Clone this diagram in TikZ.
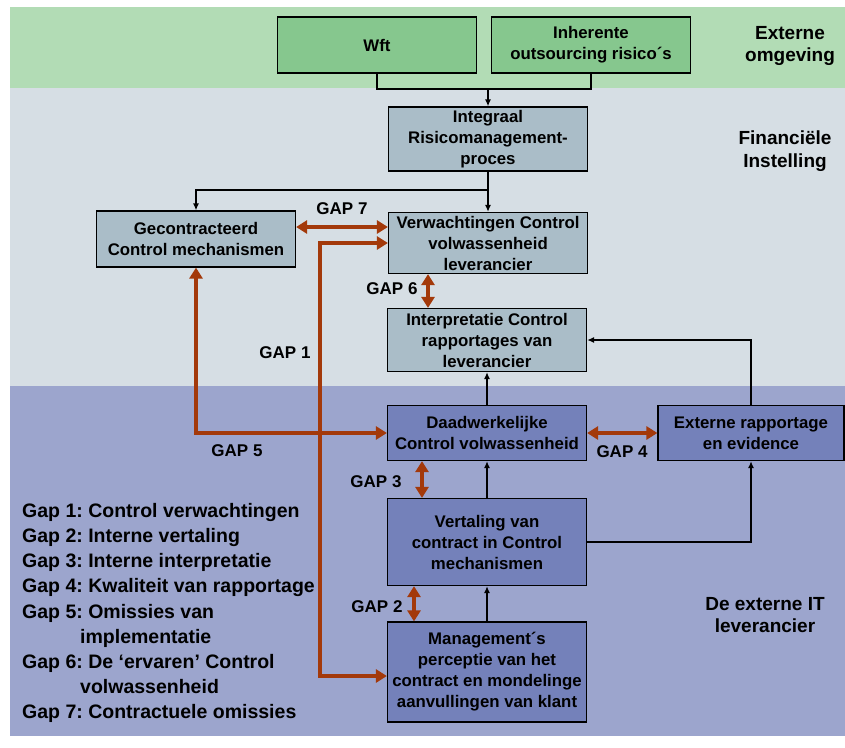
\documentclass[tikz,border=0pt]{standalone}
\usepackage{fontspec}
\setmainfont{Liberation Sans}
\usetikzlibrary{arrows.meta}
\definecolor{bandgreen}{HTML}{B2DCB5}
\definecolor{boxgreen}{HTML}{86C78E}
\definecolor{bandgrey}{HTML}{D6DEE4}
\definecolor{boxgrey}{HTML}{AABDC8}
\definecolor{bandblue}{HTML}{9CA5CD}
\definecolor{boxblue}{HTML}{7481BA}
\definecolor{gaporange}{HTML}{A3390A}
\begin{document}
\begin{tikzpicture}[x=1pt, y=-1pt,
    box/.style={draw, line width=1.2pt, align=center, inner sep=2pt,
        minimum width=199pt, font=\bfseries\fontsize{16.8}{21}\selectfont},
    greenbox/.style={box, fill=boxgreen, minimum height=56pt},
    greybox/.style={box, fill=boxgrey},
    bluebox/.style={box, fill=boxblue},
    link/.style={line width=1.4pt, -{Latex[length=7pt,width=6pt]}},
    line/.style={line width=1.4pt},
    gap/.style={line width=3.5pt, draw=gaporange,
        {Triangle[length=11pt,width=13pt]}-{Triangle[length=11pt,width=13pt]}},
    gaplabel/.style={font=\bfseries\fontsize{17}{20}\selectfont},
    region/.style={align=center, font=\bfseries\fontsize{19}{22.5}\selectfont},
    legend/.style={align=left, inner sep=0pt, font=\bfseries\frenchspacing\fontsize{19.5}{25.2}\selectfont}]
\useasboundingbox (0,0) rectangle (845,747);
\fill[bandgreen] (9.5,7) rectangle (845,88);
\fill[bandgrey] (9.5,88) rectangle (845,386);
\fill[bandblue] (9.5,386) rectangle (845,736);

\node[greenbox] (wft) at (377,45) {Wft};
\node[greenbox] (risico) at (591,45) {Inherente\\outsourcing risico´s};
\node[greybox, minimum height=64pt] (integraal) at (488,139) {Integraal\\Risicomanagement-\\proces};
\node[greybox, minimum height=56pt] (gecontr) at (196,239) {Gecontracteerd\\Control mechanismen};
\node[greybox, minimum height=61pt] (verwacht) at (488,243) {Verwachtingen Control\\volwassenheid\\leverancier};
\node[greybox, minimum height=63pt] (interpr) at (487,340) {Interpretatie Control\\rapportages van\\leverancier};
\node[bluebox, minimum height=55pt] (daadw) at (487,433) {Daadwerkelijke\\Control volwassenheid};
\node[bluebox, minimum width=186pt, minimum height=55pt] (extrap) at (751,433) {Externe rapportage\\en evidence};
\node[bluebox, minimum height=87pt] (vertaling) at (487,542) {Vertaling van\\contract in Control\\mechanismen};
\node[bluebox, minimum height=100pt] (mgmt) at (487,672) {Management´s\\perceptie van het\\contract en mondelinge\\aanvullingen van klant};

\node[region] (omgeving) at (790,46) {Externe\\omgeving};
\node[region] (instelling) at (785,151) {Financiële\\Instelling};
\node[region] (leverancier) at (765,615) {De externe IT\\leverancier};

\coordinate (join) at (488,89);
\coordinate (split) at (488,190);
\coordinate (gapone) at (320,460);
\draw[line] (wft.south) |- (join) -| (risico.south);
\draw[link] (join) -- (integraal.north);
\draw[link] (integraal.south) -- (verwacht.north);
\draw[link] (split) -| (gecontr.north);
\draw[link] (daadw.north) -- (interpr.south);
\draw[link] (extrap.north) |- (interpr.east);
\draw[link] (vertaling.north) -- (daadw.south);
\draw[link] (vertaling.east) -| (extrap.south);
\draw[link] (mgmt.north) -- (vertaling.south);

\draw[gap] ([yshift=12pt]gecontr.east) -- ([yshift=12pt]gecontr.east -| verwacht.west);
\draw[gap] (verwacht.west) -| (gapone) |- ([yshift=-4pt]mgmt.west);
\draw[gap] (gecontr.south) |- (daadw.west);
\draw[gap] (daadw.east) -- (extrap.west);
\draw[gap] ([xshift=-60pt]verwacht.south) -- ([xshift=-60pt]verwacht.south |- interpr.north);
\draw[gap] ([xshift=-65pt]daadw.south) -- ([xshift=-65pt]daadw.south |- vertaling.north);
\draw[gap] ([xshift=-73pt]vertaling.south) -- ([xshift=-73pt]vertaling.south |- mgmt.north);

\node[gaplabel] (gap7) at (342,209) {GAP 7};
\node[gaplabel] (gap6) at (392,289) {GAP 6};
\node[gaplabel] (gap1) at (285,353) {GAP 1};
\node[gaplabel] (gap5) at (237,451) {GAP 5};
\node[gaplabel] (gap4) at (622,452) {GAP 4};
\node[gaplabel] (gap3) at (376,482) {GAP 3};
\node[gaplabel] (gap2) at (377,607) {GAP 2};

\node[legend, anchor=north west] (legenda) at (22,503) {Gap 1: Control verwachtingen\\
Gap 2: Interne vertaling\\
Gap 3: Interne interpretatie\\
Gap 4: Kwaliteit van rapportage\\
Gap 5: Omissies van\\
\hspace*{58pt}implementatie\\
Gap 6: De ‘ervaren’ Control\\
\hspace*{58pt}volwassenheid\\
Gap 7: Contractuele omissies};
\end{tikzpicture}
\end{document}
